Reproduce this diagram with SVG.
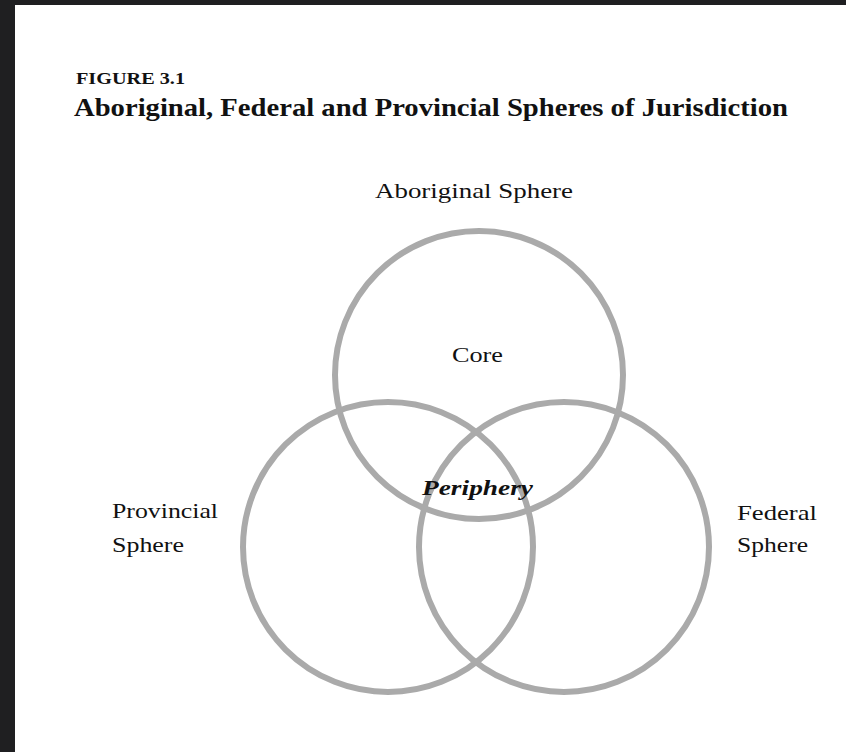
<svg xmlns="http://www.w3.org/2000/svg" width="846" height="752" viewBox="0 0 846 752">
<style>
.lbl{font-family:"Liberation Serif","Times New Roman",serif;font-size:22px;fill:#111;}
.ttl{font-family:"Liberation Serif","Times New Roman",serif;font-weight:bold;fill:#111;}
.ring{fill:none;stroke:#aaaaaa;stroke-width:6;}
</style>
<rect x="0" y="0" width="846" height="752" fill="#1f1f21"/>
<rect x="15" y="5" width="831" height="747" fill="#ffffff"/>
<g id="title">
<text class="ttl" x="76" y="84" font-size="17" textLength="109" lengthAdjust="spacingAndGlyphs">FIGURE 3.1</text>
<text class="ttl" x="74" y="116" font-size="26" textLength="714" lengthAdjust="spacingAndGlyphs">Aboriginal, Federal and Provincial Spheres of Jurisdiction</text>
</g>
<g id="connectors"></g>
<g id="aboriginal">
<circle class="ring" cx="479" cy="375" r="144"/>
<text class="lbl" x="375" y="198" font-size="23" textLength="198" lengthAdjust="spacingAndGlyphs">Aboriginal Sphere</text>
<text class="lbl" x="452" y="362" textLength="51" lengthAdjust="spacingAndGlyphs">Core</text>
</g>
<g id="provincial">
<circle class="ring" cx="388" cy="547" r="145"/>
<text class="lbl" x="112" y="518" textLength="106" lengthAdjust="spacingAndGlyphs">Provincial</text>
<text class="lbl" x="112" y="552" textLength="72" lengthAdjust="spacingAndGlyphs">Sphere</text>
</g>
<g id="federal">
<circle class="ring" cx="564" cy="547" r="145"/>
<text class="lbl" x="737" y="520" textLength="80" lengthAdjust="spacingAndGlyphs">Federal</text>
<text class="lbl" x="737" y="552" textLength="71" lengthAdjust="spacingAndGlyphs">Sphere</text>
</g>
<g id="periphery">
<text class="lbl" x="422" y="495" font-weight="bold" font-style="italic" textLength="111" lengthAdjust="spacingAndGlyphs">Periphery</text>
</g>
</svg>
